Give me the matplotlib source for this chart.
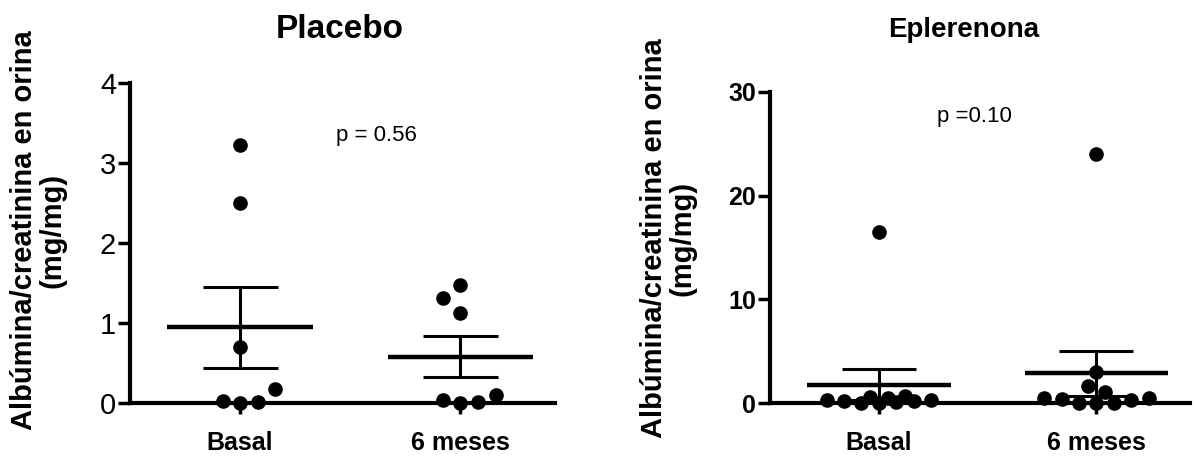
import matplotlib

matplotlib.use("Agg")
import matplotlib.pyplot as plt
import numpy as np
from matplotlib import font_manager

# ---- data ----
groups = ["Basal", "6 meses"]

placebo_basal = [3.22, 2.50, 0.70, 0.17, 0.02, 0.00, 0.01]
placebo_basal_slot = [0, 0, 0, 2, -1, 0, 1]
placebo_6m = [1.47, 1.31, 1.12, 0.04, 0.00, 0.01, 0.10]
placebo_6m_slot = [0, -1, 0, -1, 0, 1, 2]

epl_basal = [16.5, 0.3, 0.2, 0.0, 0.6, 0.0, 0.5, 0.1, 0.7, 0.2, 0.3]
epl_basal_slot = [0, -3, -2, -1, -0.5, 0, 0.5, 1, 1.5, 2, 3]
epl_6m = [24.0, 3.0, 1.6, 1.1, 0.5, 0.4, 0.0, 0.0, 0.0, 0.3, 0.5]
epl_6m_slot = [0, 0, -0.5, 0.5, -3, -2, -1, 0, 1, 2, 3]

placebo_ticks = [0, 1, 2, 3, 4]
epl_ticks = [0, 10, 20, 30]

ylabel = "Albúmina/creatinina en orina\n(mg/mg)"

names = {f.name for f in font_manager.fontManager.ttflist}
SANS = "Liberation Sans" if "Liberation Sans" in names else "DejaVu Sans"
plt.rcParams["font.family"] = SANS

SLOT = 0.08


def draw_panel(ax, series, slots, ymax, ticks, title, title_xy, title_size,
               ptext, pxy, bold_ticks, tick_size):
    for i, (vals, sl) in enumerate(zip(series, slots)):
        vals = np.asarray(vals, dtype=float)
        xs = i + np.asarray(sl) * SLOT
        ax.plot(xs, vals, "o", color="black", markersize=9.5, clip_on=False, zorder=4)
        mean = vals.mean()
        sem = vals.std(ddof=1) / np.sqrt(len(vals))
        ax.hlines(mean, i - 0.33, i + 0.33, color="black", linewidth=3.2, zorder=3)
        ax.vlines(i, mean - sem, mean + sem, color="black", linewidth=2.2, zorder=3)
        ax.hlines([mean - sem, mean + sem], i - 0.17, i + 0.17, color="black", linewidth=2.2, zorder=3)

    ax.set_xlim(-0.5, 1.43)
    ax.set_ylim(0, ymax)
    ax.set_yticks(ticks)
    ax.set_xticks(range(len(groups)))
    ax.set_xticklabels(groups, fontsize=18, fontweight="bold")
    for s in ("top", "right"):
        ax.spines[s].set_visible(False)
    for s in ("left", "bottom"):
        ax.spines[s].set_linewidth(3)
    ax.tick_params(axis="both", width=2.5, direction="out")
    ax.tick_params(axis="x", length=8, pad=12)
    ax.tick_params(axis="y", length=9, pad=1)
    for lab in ax.get_yticklabels():
        lab.set_fontsize(tick_size)
        if bold_ticks:
            lab.set_fontweight("bold")
    ax.set_ylabel(ylabel, fontsize=21, fontweight="bold", linespacing=1.0)
    ax.text(title_xy[0], title_xy[1], title, transform=ax.transAxes, fontsize=title_size,
            fontweight="bold", ha="center", va="center")
    ax.text(pxy[0], pxy[1], ptext, fontsize=16, ha="center", va="center")


fig = plt.figure(figsize=(11.96, 4.59), dpi=100)
ax1 = fig.add_axes([0.1087, 0.122, 0.3554, 0.697])
ax2 = fig.add_axes([0.6438, 0.122, 0.3512, 0.678])

draw_panel(ax1, [placebo_basal, placebo_6m], [placebo_basal_slot, placebo_6m_slot],
           4, placebo_ticks, "Placebo", (0.494, 1.166), 24,
           "p = 0.56", (0.62, 3.35), False, 21)
draw_panel(ax2, [epl_basal, epl_6m], [epl_basal_slot, epl_6m_slot],
           30, epl_ticks, "Eplerenona", (0.462, 1.2), 20,
           "p =0.10", (0.44, 27.6), True, 18)

ax1.yaxis.set_label_coords(-0.15, 0.54)
ax2.yaxis.set_label_coords(-0.175, 0.53)

fig.savefig("out.png", dpi=100)
